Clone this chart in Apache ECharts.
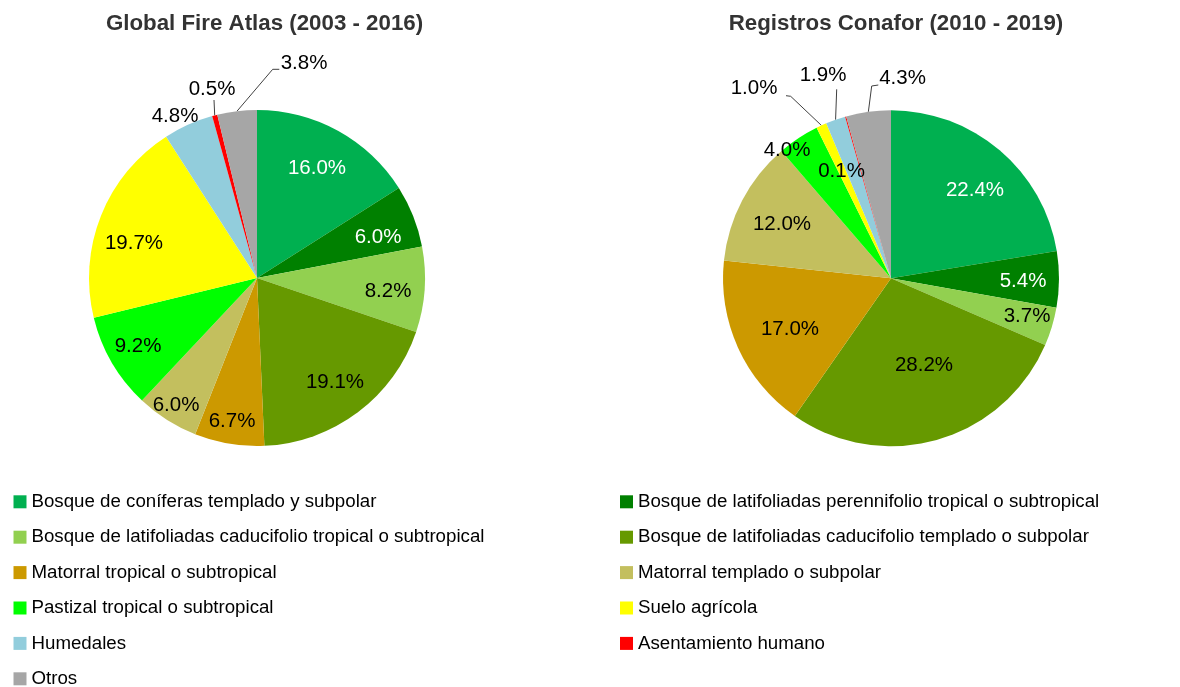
<!DOCTYPE html>
<html>
<head>
<meta charset="utf-8">
<script src="https://cdn.jsdelivr.net/npm/echarts@6/dist/echarts.min.js"></script>
<style>
  html, body { margin: 0; padding: 0; background: #ffffff; }
  #chart { width: 1180px; height: 687px; }
</style>
</head>
<body>
<div id="chart"></div>
<script>
// ---- DATA ----
const categories = [
  'Bosque de coníferas templado y subpolar',
  'Bosque de latifoliadas perennifolio tropical o subtropical',
  'Bosque de latifoliadas caducifolio tropical o subtropical',
  'Bosque de latifoliadas caducifolio templado o subpolar',
  'Matorral tropical o subtropical',
  'Matorral templado o subpolar',
  'Pastizal tropical o subtropical',
  'Suelo agrícola',
  'Humedales',
  'Asentamiento humano',
  'Otros'
];
const gfaValues     = [16.0, 6.0, 8.2, 19.1, 6.7, 6.0, 9.2, 19.7, 4.8, 0.5, 3.8];
const conaforValues = [22.4, 5.4, 3.7, 28.2, 17.0, 12.0, 4.0, 1.0, 1.9, 0.1, 4.3];
const titles = ['Global Fire Atlas (2003 - 2016)', 'Registros Conafor (2010 - 2019)'];

// ---- STYLE / LAYOUT ----
const colors = ['#00B050', '#008000', '#92D050', '#669900', '#CC9900', '#C3BF5E',
                '#00FF00', '#FFFF00', '#92CDDC', '#FF0000', '#A6A6A6'];
const whiteLabel = [true, true, false, false, false, false, false, false, false, false, false];
const FONT = "'Liberation Sans', Arial, sans-serif";
const R = 168;
const pies = [
  {
    values: gfaValues, cx: 257, cy: 278, titleX: 264.5,
    labelOffsets: [[60,-110],[121,-41],[131,13],[78,104],[-25,143],[-81,127],[-119,68],[-123,-35],[-82,-161.5],[-45,-189],[47,-215]],
    linePts: {9: [[-43,-178]], 10: [[15.7,-208.7],[22.3,-208.7]]}
  },
  {
    values: conaforValues, cx: 891, cy: 278.3, titleX: 896,
    labelOffsets: [[84,-88],[132,3],[136,38],[33,87],[-101,51],[-109,-54],[-104,-128],[-137,-190],[-68,-203],[-49.5,-106.6],[11.5,-200]],
    linePts: {7: [[-100.3,-182],[-105,-182.6]], 8: [[-54.3,-189]], 10: [[-19.3,-192.3],[-12.7,-193.3]]}
  }
];

function makeLabelLayout(p) {
  return function (params) {
    const i = params.dataIndex;
    const off = p.labelOffsets[i];
    const res = { x: p.cx + off[0], y: p.cy + off[1], align: 'center', verticalAlign: 'middle' };
    const lp = p.linePts[i];
    if (lp) {
      const total = p.values.reduce((a, b) => a + b, 0);
      let cum = 0;
      for (let k = 0; k < i; k++) cum += p.values[k];
      const th = 2 * Math.PI * (cum + p.values[i] / 2) / total;
      const pts = [[p.cx + R * Math.sin(th), p.cy - R * Math.cos(th)]];
      lp.forEach(q => pts.push([p.cx + q[0], p.cy + q[1]]));
      if (pts.length === 2) pts.push(pts[1].slice());
      res.labelLinePoints = pts;
    }
    return res;
  };
}

const series = pies.map((p, si) => ({
  type: 'pie',
  name: titles[si],
  center: [p.cx, p.cy],
  radius: [0, R],
  startAngle: 90,
  clockwise: true,
  avoidLabelOverlap: false,
  silent: true,
  itemStyle: { borderWidth: 0 },
  label: {
    show: true,
    position: 'outside',
    fontSize: 20.5,
    fontFamily: FONT,
    color: '#000',
    formatter: d => d.value.toFixed(1) + '%'
  },
  labelLine: { show: false, lineStyle: { color: '#404040', width: 1 } },
  labelLayout: makeLabelLayout(p),
  data: categories.map((c, i) => ({
    name: c,
    value: p.values[i],
    itemStyle: { color: colors[i] },
    label: { color: whiteLabel[i] ? '#ffffff' : '#000000' },
    labelLine: { show: !!p.linePts[i] }
  }))
}));

const legendCommon = {
  orient: 'vertical',
  top: 492.3,
  height: 260,
  padding: 0,
  itemWidth: 13,
  itemHeight: 13,
  itemGap: 16.4,
  icon: 'rect',
  selectedMode: false,
  textStyle: { fontSize: 18.7, fontFamily: FONT, color: '#000' }
};

const option = {
  animation: false,
  color: colors,
  graphic: pies.map((p, si) => ({
    type: 'text',
    x: p.titleX,
    y: 24,
    style: {
      text: titles[si],
      align: 'center',
      verticalAlign: 'middle',
      fontSize: 22.3,
      fontWeight: 'bold',
      fontFamily: FONT,
      fill: '#333333'
    }
  })),
  legend: [
    Object.assign({}, legendCommon, { left: 13.5, data: categories.filter((c, i) => i % 2 === 0) }),
    Object.assign({}, legendCommon, { left: 620, data: categories.filter((c, i) => i % 2 === 1) })
  ],
  series: series
};

const chart = echarts.init(document.getElementById('chart'), null, { renderer: 'canvas' });
chart.setOption(option);
</script>
</body>
</html>
